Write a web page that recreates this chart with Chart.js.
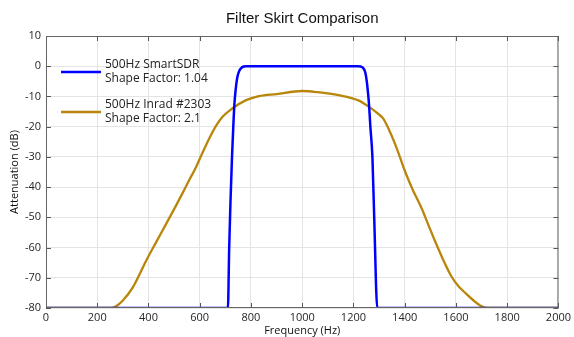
<!DOCTYPE html>
<html>
<head>
<meta charset="utf-8">
<script src="https://cdn.jsdelivr.net/npm/chart.js@4.4.0/dist/chart.umd.min.js"></script>
<style>
  html, body { margin: 0; padding: 0; background: #fff; }
  #wrap { width: 574px; height: 337px; }
</style>
</head>
<body>
<div id="wrap"><canvas id="chart1" width="574" height="337"></canvas></div>
<script>
// curva SmartSDR (Hz / dB)
const sdrFreq = [0, 710, 715, 720, 726, 731, 735, 740, 746, 753, 762, 772, 782,
  1218, 1228, 1238, 1246, 1252, 1257, 1261, 1266, 1274, 1281, 1293, 2000];
const sdrDb = [-80, -80, -60, -45, -30, -20, -13, -8, -4, -1.8, -0.6, -0.1, 0,
  0, -0.1, -0.6, -2, -5, -9, -13, -20, -30, -50, -80, -80];

// curva Inrad #2303
const inradFreq = [0, 255, 272, 300, 340, 390, 430, 470, 510, 533, 560, 585, 605, 624, 645, 663,
  689, 727, 779, 831, 900, 1000, 1060, 1142, 1219, 1258, 1297, 1317, 1336, 1362, 1381, 1400,
  1430, 1466, 1490, 1517, 1550, 1582, 1610, 1634, 1670, 1700, 1725, 2000];
const inradDb = [-80, -80, -79.5, -77.5, -73, -64.5, -58.2, -52, -45.7, -42, -37.5, -33.5, -29.7, -26.2, -22.6, -19.8,
  -16.7, -14, -11.3, -9.9, -9.2, -8.2, -8.6, -9.6, -11.3, -13.3, -15.8, -17.4, -20.5, -25.6, -30, -34.5,
  -40.6, -47, -52, -57.6, -64, -69.5, -72.8, -74.8, -77.6, -79.4, -80, -80];

const seriesLabels = [
  ['500Hz SmartSDR', 'Shape Factor: 1.04'],
  ['500Hz Inrad #2303', 'Shape Factor: 2.1']
];
const seriesColors = ['#0000ff', '#b8860b'];
const xTicks = [0, 200, 400, 600, 800, 1000, 1200, 1400, 1600, 1800, 2000];
const yTicks = [10, 0, -10, -20, -30, -40, -50, -60, -70, -80];

function toPoints(xs, ys) {
  let pts = [];
  for (let i = 0; i < xs.length; i++) {
    pts.push({ x: xs[i], y: ys[i] });
  }
  return pts;
}

const tickFont = { family: 'Open Sans', size: 11 };

// ticks hacia adentro en los cuatro lados, estilo matlab
const innerTicks = {
  id: 'innerTicks',
  afterDraw(chart) {
    const ctx = chart.ctx;
    const a = chart.chartArea;
    const xs = chart.scales.x, ys = chart.scales.y;
    ctx.save();
    ctx.strokeStyle = '#555';
    ctx.lineWidth = 1;
    ctx.beginPath();
    xTicks.forEach(function (t) {
      const px = Math.round(xs.getPixelForValue(t)) + 0.5;
      ctx.moveTo(px, a.bottom); ctx.lineTo(px, a.bottom - 5);
      ctx.moveTo(px, a.top); ctx.lineTo(px, a.top + 5);
    });
    yTicks.forEach(function (t) {
      const py = Math.round(ys.getPixelForValue(t)) + 0.5;
      ctx.moveTo(a.left, py); ctx.lineTo(a.left + 5, py);
      ctx.moveTo(a.right, py); ctx.lineTo(a.right - 5, py);
    });
    ctx.stroke();
    ctx.strokeStyle = '#666';
    ctx.strokeRect(a.left + 0.5, a.top + 0.5, a.right - a.left - 1, a.bottom - a.top - 1);
    ctx.restore();
  }
};

// leyenda de dos lineas dentro del grafico
const boxLegend = {
  id: 'boxLegend',
  afterDatasetsDraw(chart) {
    const ctx = chart.ctx;
    const a = chart.chartArea;
    ctx.save();
    ctx.font = '12px "Open Sans"';
    ctx.textBaseline = 'middle';
    ctx.fillStyle = '#222';
    for (let i = 0; i < seriesLabels.length; i++) {
      const y0 = a.top + 29 + i * 40;
      ctx.strokeStyle = seriesColors[i];
      ctx.lineWidth = 2.5;
      ctx.beginPath();
      ctx.moveTo(a.left + 15, y0 + 7);
      ctx.lineTo(a.left + 55, y0 + 7);
      ctx.stroke();
      ctx.fillText(seriesLabels[i][0], a.left + 59, y0);
      ctx.fillText(seriesLabels[i][1], a.left + 59, y0 + 14);
    }
    ctx.restore();
  }
};

new Chart(document.getElementById('chart1').getContext('2d'), {
  type: 'line',
  data: {
    datasets: [{
      label: seriesLabels[0].join(' '),
      data: toPoints(sdrFreq, sdrDb),
      borderColor: seriesColors[0],
      borderWidth: 2.5,
      pointRadius: 0,
      cubicInterpolationMode: 'monotone'
    }, {
      label: seriesLabels[1].join(' '),
      data: toPoints(inradFreq, inradDb),
      borderColor: seriesColors[1],
      borderWidth: 2.3,
      pointRadius: 0,
      cubicInterpolationMode: 'monotone'
    }]
  },
  options: {
    responsive: false,
    animation: false,
    layout: { padding: { left: 0, right: 13, top: 0, bottom: 0 } },
    plugins: {
      legend: { display: false },
      tooltip: { enabled: false },
      title: {
        display: true,
        fullSize: false,
        text: 'Filter Skirt Comparison',
        color: '#111',
        font: { family: 'Liberation Sans', size: 15, weight: 'normal', lineHeight: 1.2 },
        padding: { top: 10, bottom: 8 }
      }
    },
    scales: {
      x: {
        type: 'linear',
        min: 0,
        max: 2000,
        afterBuildTicks: function (scale) {
          scale.ticks = xTicks.map(function (v) { return { value: v }; });
        },
        afterFit: function (scale) { scale.height = 29; },
        grid: { color: '#e4e4e4', drawTicks: false },
        border: { display: false },
        ticks: {
          color: '#262626', font: tickFont, padding: 3, maxRotation: 0,
          callback: function (v) { return String(v); }
        },
        title: {
          display: true, text: 'Frequency (Hz)', color: '#111',
          font: { family: 'Open Sans', size: 11 }, padding: { top: 0, bottom: 0 }
        }
      },
      y: {
        min: -80,
        max: 10,
        afterBuildTicks: function (scale) {
          scale.ticks = yTicks.map(function (v) { return { value: v }; });
        },
        afterFit: function (scale) { scale.width = 46; },
        grid: { color: '#e4e4e4', drawTicks: false },
        border: { display: false },
        ticks: { color: '#262626', font: tickFont, padding: 5 },
        title: {
          display: true, text: 'Attenuation (dB)', color: '#111',
          font: { family: 'Open Sans', size: 11 }, padding: { top: 8, bottom: 0 }
        }
      }
    }
  },
  plugins: [innerTicks, boxLegend]
});
</script>
</body>
</html>
